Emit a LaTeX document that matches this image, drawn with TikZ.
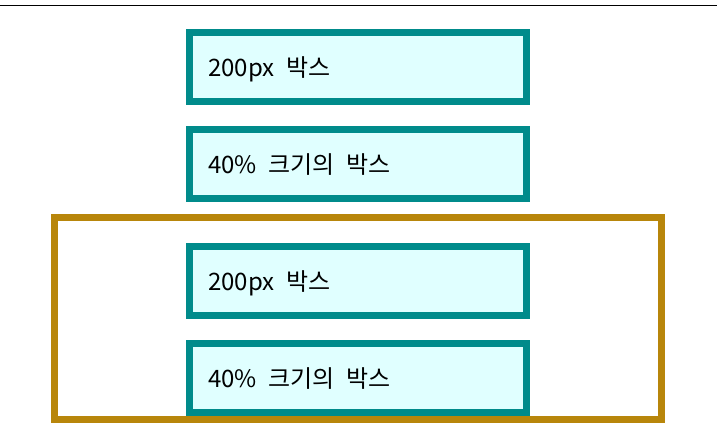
\documentclass[tikz,border=0pt]{standalone}
\usepackage{fontspec}
\setmainfont{Noto Sans CJK KR}
\definecolor{tealb}{HTML}{008B8B}
\definecolor{cyanf}{HTML}{E0FFFF}
\definecolor{goldb}{HTML}{B8860B}
\begin{document}
\begin{tikzpicture}[x=1pt,y=-1pt,
  boxshape/.style={draw=tealb,fill=cyanf,line width=7pt,minimum width=337pt,minimum height=69pt,inner sep=0pt,outer sep=0pt},
  outershape/.style={draw=goldb,line width=7pt,minimum width=607pt,minimum height=202pt,inner sep=0pt,outer sep=0pt},
  label/.style={anchor=base west,inner sep=0pt,font=\fontsize{24}{28}\selectfont}]
\useasboundingbox (0,0) rectangle (717,445);
\coordinate (l1) at (0,5.7);
\coordinate (l2) at (717,5.7);
\draw[line width=1.3pt] (l1) -- (l2);
\node[outershape] (outer) at (358,318.5) {};
\node[boxshape] (b1) at (358,67) {};
\node[boxshape] (b2) at (358,164) {};
\node[boxshape] (b3) at (358,281) {};
\node[boxshape] (b4) at (358,378) {};
\node[label] (t1) at ([xshift=18.5pt,yshift=-9.5pt]b1.west) {200px\hspace{0.48em}박스};
\node[label] (t2) at ([xshift=18.5pt,yshift=-9.5pt]b2.west) {40\%\hspace{0.48em}크기의\hspace{0.48em}박스};
\node[label] (t3) at ([xshift=18.5pt,yshift=-9.5pt]b3.west) {200px\hspace{0.48em}박스};
\node[label] (t4) at ([xshift=18.5pt,yshift=-9.5pt]b4.west) {40\%\hspace{0.48em}크기의\hspace{0.48em}박스};
\end{tikzpicture}
\end{document}
